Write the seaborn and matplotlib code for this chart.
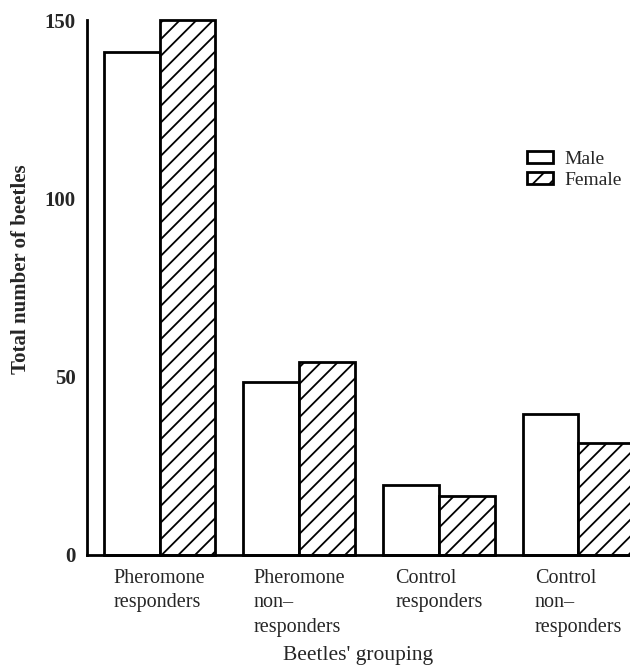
import matplotlib
matplotlib.use("Agg")
import matplotlib.pyplot as plt
from matplotlib.patches import Patch
import seaborn as sns
import pandas as pd

categories = ["Pheromone\nresponders", "Pheromone\nnon\u2013\nresponders",
              "Control\nresponders", "Control\nnon\u2013\nresponders"]
male = [141, 48.5, 19.5, 39.5]
female = [150, 54, 16.5, 31.5]
sexes = ["Male", "Female"]
yticks = [0, 50, 100, 150]

df = pd.DataFrame({
    "group": categories * 2,
    "sex": [sexes[0]] * len(categories) + [sexes[1]] * len(categories),
    "count": male + female,
})

sns.set_style("white")
plt.rcParams["font.family"] = ["Liberation Serif", "DejaVu Serif"]
plt.rcParams["hatch.linewidth"] = 1.3

fig = plt.figure(figsize=(6.3, 6.69), dpi=100)
ax = fig.add_axes([87 / 630, 114 / 669, 1 - 87 / 630, 535 / 669])

sns.barplot(data=df, x="group", y="count", hue="sex", order=categories,
            hue_order=sexes, palette=["white", "white"], edgecolor="black",
            linewidth=2.0, saturation=1, ax=ax, legend=False)

for bar in ax.containers[1]:
    bar.set_hatch("//")
for cont in ax.containers:
    for bar in cont:
        bar.set_clip_on(False)

ax.set_xlim(-0.52, 3.37)
ax.set_ylim(0, 150)
ax.set_yticks(yticks)
ax.set_yticklabels([str(v) for v in yticks], fontsize=15, fontweight="bold")
ax.tick_params(axis="y", direction="in", length=12, width=1.5, pad=8, color="black")
ax.tick_params(axis="x", length=0, pad=10)
for lab in ax.get_xticklabels():
    lab.set_fontsize(14.5)
    lab.set_multialignment("left")
    lab.set_linespacing(1.4)
    lab.set_verticalalignment("top")

for s in ["top", "right"]:
    ax.spines[s].set_visible(False)
for s in ["left", "bottom"]:
    ax.spines[s].set_linewidth(2.0)
    ax.spines[s].set_color("black")

ax.set_ylabel("Total number of beetles", fontsize=15, fontweight="bold")
ax.yaxis.set_label_coords((31 - 87) / 543, (555 - 269) / 535)
ax.set_xlabel("Beetles' grouping", fontsize=15.5)
ax.xaxis.set_label_coords(0.5, (555 - 646) / 535)

handles = [Patch(facecolor="white", edgecolor="black", linewidth=2.0, label=sexes[0]),
           Patch(facecolor="white", edgecolor="black", linewidth=2.0, hatch="//", label=sexes[1])]
ax.legend(handles=handles, loc="upper right", bbox_to_anchor=(1.0, 0.77),
          frameon=False, fontsize=14, handlelength=1.35, handleheight=0.55,
          handletextpad=0.6, labelspacing=0.2, borderaxespad=0.0)

fig.savefig("out.png", dpi=100)
